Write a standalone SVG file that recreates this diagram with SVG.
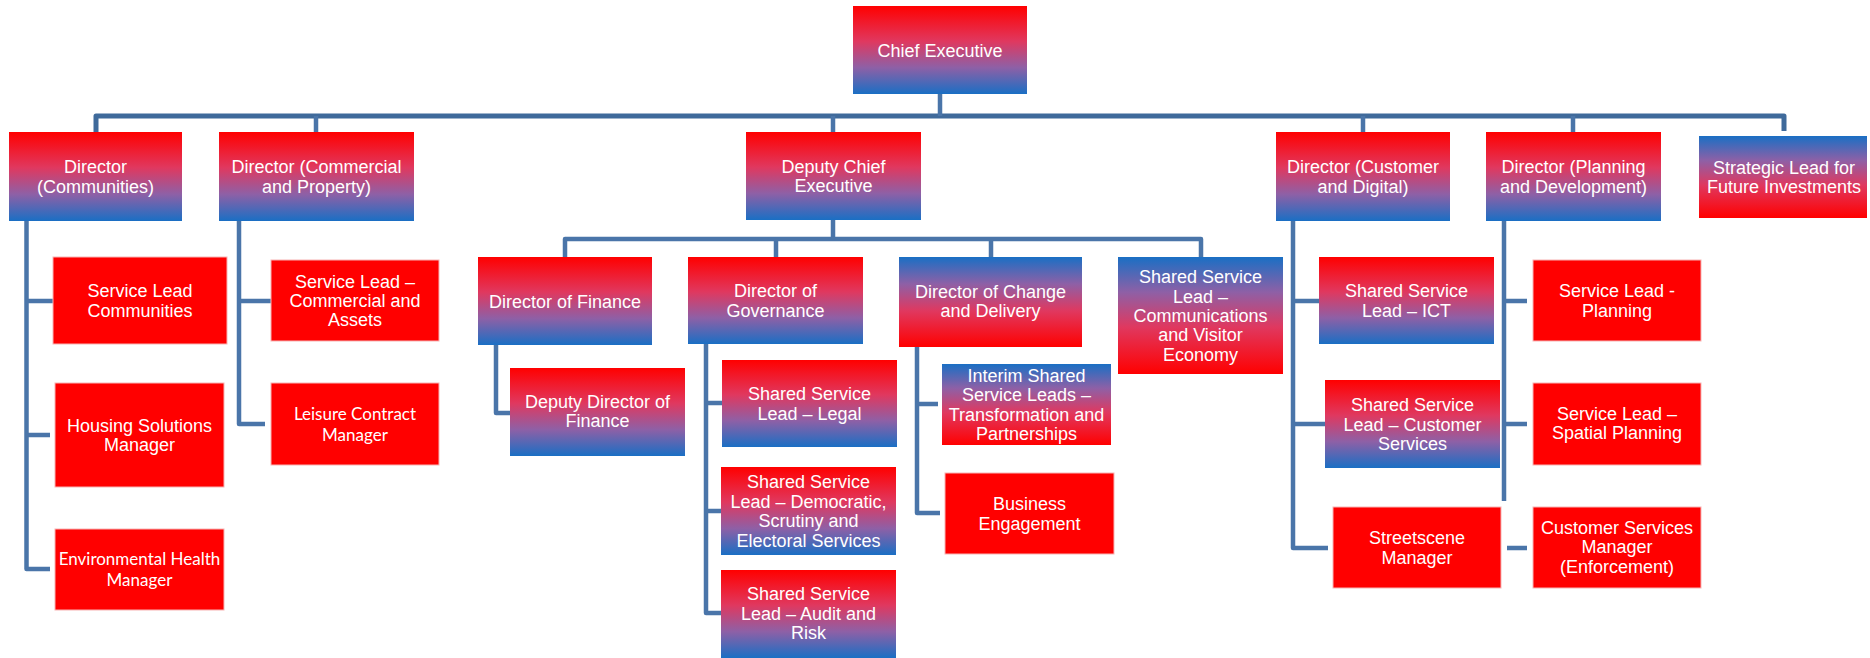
<svg xmlns="http://www.w3.org/2000/svg" width="1870" height="658" viewBox="0 0 1870 658">
<defs>
<linearGradient id="rb" x1="0" y1="0" x2="0" y2="1">
<stop offset="0" stop-color="#ff0000"/>
<stop offset="0.4" stop-color="#e0385f"/>
<stop offset="0.7" stop-color="#8e60a6"/>
<stop offset="1" stop-color="#1a6fc4"/>
</linearGradient>
<linearGradient id="br" x1="0" y1="1" x2="0" y2="0">
<stop offset="0" stop-color="#ff0000"/>
<stop offset="0.4" stop-color="#e0385f"/>
<stop offset="0.7" stop-color="#8e60a6"/>
<stop offset="1" stop-color="#1a6fc4"/>
</linearGradient>
<style>
.rb{fill:url(#rb);}
.br{fill:url(#br);}
.sr{fill:#ff0000;stroke:#f7b4b4;stroke-width:1;}
.t{font-family:"Liberation Sans",Arial,sans-serif;font-size:18px;fill:#ffffff;text-anchor:middle;}
.c{font-family:Lato,"Liberation Sans",sans-serif;font-size:17px;fill:#ffffff;text-anchor:middle;}
.ln{fill:none;stroke:#4a75a9;stroke-width:4.5;stroke-linejoin:round;stroke-linecap:butt;}
.bus{fill:none;stroke:#3f6a9b;stroke-width:5;stroke-linejoin:round;}
</style>
</defs>
<g id="connectors">
<path class="bus" d="M96,132 V116 H1784 V131"/>
<path class="ln" d="M316,116 V132 M833,116 V132 M940,94 V116 M1363,116 V132 M1573,116 V132"/>
<path class="ln" d="M833,220 V239 M565,257 V239 H1201 V257 M776,239 V257 M991,239 V257"/>
<path class="ln" d="M26.5,221 V569 H50 M26.5,301 H53 M26.5,435 H50"/>
<path class="ln" d="M239,221 V424 H265 M239,301 H271"/>
<path class="ln" d="M496,345 V413 H510"/>
<path class="ln" d="M706,344 V613 H721 M706,403 H722 M706,511 H721"/>
<path class="ln" d="M917,347 V513 H940 M917,404 H938"/>
<path class="ln" d="M1293,221 V548 H1328 M1293,301 H1319 M1293,424 H1325"/>
<path class="ln" d="M1504,221 V501 M1504,301 H1527 M1504,424 H1527 M1507,548 H1527"/>
</g>
<g id="chief-executive"><rect class="rb" x="853" y="6" width="174" height="88"/><text class="t" x="940" y="56.5">Chief Executive</text></g>
<g id="dir-communities"><rect class="rb" x="9" y="132" width="173" height="89"/><text class="t"><tspan x="95.5" y="173.3">Director</tspan><tspan x="95.5" y="192.7">(Communities)</tspan></text></g>
<g id="dir-commercial"><rect class="rb" x="219" y="132" width="195" height="89"/><text class="t"><tspan x="316.5" y="173.3">Director (Commercial</tspan><tspan x="316.5" y="192.7">and Property)</tspan></text></g>
<g id="deputy-ce"><rect class="rb" x="746" y="132" width="175" height="88"/><text class="t"><tspan x="833.5" y="172.8">Deputy Chief</tspan><tspan x="833.5" y="192.2">Executive</tspan></text></g>
<g id="dir-customer"><rect class="rb" x="1276" y="132" width="174" height="89"/><text class="t"><tspan x="1363" y="173.3">Director (Customer</tspan><tspan x="1363" y="192.7">and Digital)</tspan></text></g>
<g id="dir-planning"><rect class="rb" x="1486" y="132" width="175" height="89"/><text class="t"><tspan x="1573.5" y="173.3">Director (Planning</tspan><tspan x="1573.5" y="192.7">and Development)</tspan></text></g>
<g id="strategic-lead"><rect class="br" x="1699" y="136" width="168" height="82"/><text class="t"><tspan x="1784" y="173.5">Strategic Lead for</tspan><tspan x="1784" y="192.5">Future Investments</tspan></text></g>
<g id="sl-communities"><rect class="sr" x="53" y="257" width="174" height="87"/><text class="t"><tspan x="140" y="297.3">Service Lead</tspan><tspan x="140" y="316.7">Communities</tspan></text></g>
<g id="housing"><rect class="sr" x="55" y="383" width="169" height="104"/><text class="t"><tspan x="139.5" y="431.8">Housing Solutions</tspan><tspan x="139.5" y="451.2">Manager</tspan></text></g>
<g id="env-health"><rect class="sr" x="55" y="529" width="169" height="81"/><text class="c"><tspan x="139.5" y="565.3">Environmental Health</tspan><tspan x="139.5" y="586">Manager</tspan></text></g>
<g id="sl-commercial"><rect class="sr" x="271" y="260" width="168" height="81"/><text class="t"><tspan x="355" y="287.6">Service Lead –</tspan><tspan x="355" y="307">Commercial and</tspan><tspan x="355" y="326.4">Assets</tspan></text></g>
<g id="leisure"><rect class="sr" x="271" y="383" width="168" height="82"/><text class="c"><tspan x="355" y="419.8">Leisure Contract</tspan><tspan x="355" y="440.5">Manager</tspan></text></g>
<g id="dir-finance"><rect class="rb" x="478" y="257" width="174" height="88"/><text class="t" x="565" y="307.5">Director of Finance</text></g>
<g id="deputy-dir-finance"><rect class="rb" x="510" y="368" width="175" height="88"/><text class="t"><tspan x="597.5" y="407.5">Deputy Director of</tspan><tspan x="597.5" y="427">Finance</tspan></text></g>
<g id="dir-governance"><rect class="rb" x="688" y="257" width="175" height="87"/><text class="t"><tspan x="775.5" y="297.3">Director of</tspan><tspan x="775.5" y="316.7">Governance</tspan></text></g>
<g id="ssl-legal"><rect class="rb" x="722" y="360" width="175" height="87"/><text class="t"><tspan x="809.5" y="400.3">Shared Service</tspan><tspan x="809.5" y="419.7">Lead – Legal</tspan></text></g>
<g id="ssl-democratic"><rect class="rb" x="721" y="467" width="175" height="88"/><text class="t"><tspan x="808.5" y="488.4">Shared Service</tspan><tspan x="808.5" y="507.8">Lead – Democratic,</tspan><tspan x="808.5" y="527.2">Scrutiny and</tspan><tspan x="808.5" y="546.6">Electoral Services</tspan></text></g>
<g id="ssl-audit"><rect class="rb" x="721" y="570" width="175" height="88"/><text class="t"><tspan x="808.5" y="600.3">Shared Service</tspan><tspan x="808.5" y="619.7">Lead – Audit and</tspan><tspan x="808.5" y="639.1">Risk</tspan></text></g>
<g id="dir-change"><rect class="br" x="899" y="257" width="183" height="90"/><text class="t"><tspan x="990.5" y="297.7">Director of Change</tspan><tspan x="990.5" y="317.1">and Delivery</tspan></text></g>
<g id="interim-ssl"><rect class="br" x="942" y="364" width="169" height="81"/><text class="t"><tspan x="1026.5" y="381.9">Interim Shared</tspan><tspan x="1026.5" y="401.3">Service Leads –</tspan><tspan x="1026.5" y="420.7">Transformation and</tspan><tspan x="1026.5" y="440.1">Partnerships</tspan></text></g>
<g id="business-engagement"><rect class="sr" x="945" y="473" width="169" height="81"/><text class="t"><tspan x="1029.5" y="510.3">Business</tspan><tspan x="1029.5" y="529.7">Engagement</tspan></text></g>
<g id="ssl-comms"><rect class="br" x="1118" y="257" width="165" height="117"/><text class="t"><tspan x="1200.5" y="283.2">Shared Service</tspan><tspan x="1200.5" y="302.6">Lead –</tspan><tspan x="1200.5" y="322">Communications</tspan><tspan x="1200.5" y="341.4">and Visitor</tspan><tspan x="1200.5" y="360.8">Economy</tspan></text></g>
<g id="ssl-ict"><rect class="rb" x="1319" y="257" width="175" height="87"/><text class="t"><tspan x="1406.5" y="297.3">Shared Service</tspan><tspan x="1406.5" y="316.7">Lead – ICT</tspan></text></g>
<g id="ssl-customer"><rect class="rb" x="1325" y="380" width="175" height="88"/><text class="t"><tspan x="1412.5" y="411.1">Shared Service</tspan><tspan x="1412.5" y="430.5">Lead – Customer</tspan><tspan x="1412.5" y="449.9">Services</tspan></text></g>
<g id="streetscene"><rect class="sr" x="1333" y="507" width="168" height="81"/><text class="t"><tspan x="1417" y="544.3">Streetscene</tspan><tspan x="1417" y="563.7">Manager</tspan></text></g>
<g id="sl-planning"><rect class="sr" x="1533" y="260" width="168" height="81"/><text class="t"><tspan x="1617" y="297.3">Service Lead -</tspan><tspan x="1617" y="316.7">Planning</tspan></text></g>
<g id="sl-spatial"><rect class="sr" x="1533" y="383" width="168" height="82"/><text class="t"><tspan x="1617" y="420">Service Lead –</tspan><tspan x="1617" y="439.4">Spatial Planning</tspan></text></g>
<g id="cs-manager"><rect class="sr" x="1533" y="507" width="168" height="81"/><text class="t"><tspan x="1617" y="533.8">Customer Services</tspan><tspan x="1617" y="553.2">Manager</tspan><tspan x="1617" y="572.6">(Enforcement)</tspan></text></g>
</svg>
